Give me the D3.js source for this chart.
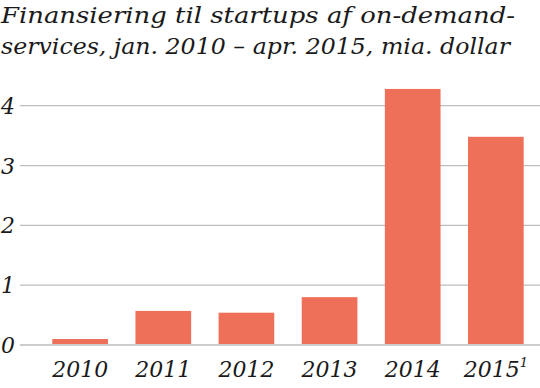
<!DOCTYPE html>
<html><head><meta charset="utf-8">
<script src="https://cdn.jsdelivr.net/npm/d3@7"></script>
</head><body style="margin:0;background:#fff">
<svg id="c" width="540" height="388" style="display:block"></svg>
<script>
const categories = ["2010","2011","2012","2013","2014","2015"];
const values = [0.1, 0.57, 0.54, 0.8, 4.28, 3.48];
const yTicks = [0,1,2,3,4];
const titleLines = ["Finansiering til startups af on-demand-","services, jan. 2010 – apr. 2015, mia. dollar"];
const titleWidths = [514, 509];

const FONT = '"DejaVu Serif"';
const FS = 22;
const svg = d3.select("#c");
const x = d3.scaleBand().domain(categories).range([39,537]).paddingInner(0.33).paddingOuter(0.16);
const y = d3.scaleLinear().domain([0,4]).range([345,105.7]);

svg.selectAll("text.title").data(titleLines).join("text").attr("class","title")
  .attr("x",1).attr("y",(d,i)=>23+i*31)
  .attr("font-family",FONT).attr("font-style","italic").attr("font-weight",300)
  .attr("font-size",FS).attr("fill","#1a1a1a")
  .attr("textLength",(d,i)=>titleWidths[i]).attr("lengthAdjust","spacingAndGlyphs").text(d=>d);

const g = svg.append("g");
g.selectAll("line.grid").data(yTicks).join("line").attr("class","grid")
  .attr("x1",20).attr("x2",540).attr("y1",d=>y(d)).attr("y2",d=>y(d))
  .attr("stroke","#bdbdbd").attr("stroke-width",1.3);
g.selectAll("text.yl").data(yTicks).join("text").attr("class","yl")
  .attr("x",1).attr("y",d=>y(d)+8)
  .attr("font-family",FONT).attr("font-style","italic").attr("font-size",FS).attr("fill","#1a1a1a").text(d=>d);

g.selectAll("rect").data(values).join("rect")
  .attr("x",(d,i)=>x(categories[i])).attr("width",x.bandwidth())
  .attr("y",d=>y(d)).attr("height",d=>y(0)-y(d)-1).attr("fill","#ee7058");

const xl = g.selectAll("text.xl").data(categories).join("text").attr("class","xl")
  .attr("x",d=>x(d)+x.bandwidth()/2).attr("y",377).attr("text-anchor","middle")
  .attr("font-family",FONT).attr("font-style","italic").attr("font-size",FS).attr("fill","#1a1a1a");
xl.append("tspan").text(d=>d);
xl.filter(d=>d==="2015").append("tspan").attr("dy",-10).attr("font-size",13).text("1");
</script>
</body></html>
